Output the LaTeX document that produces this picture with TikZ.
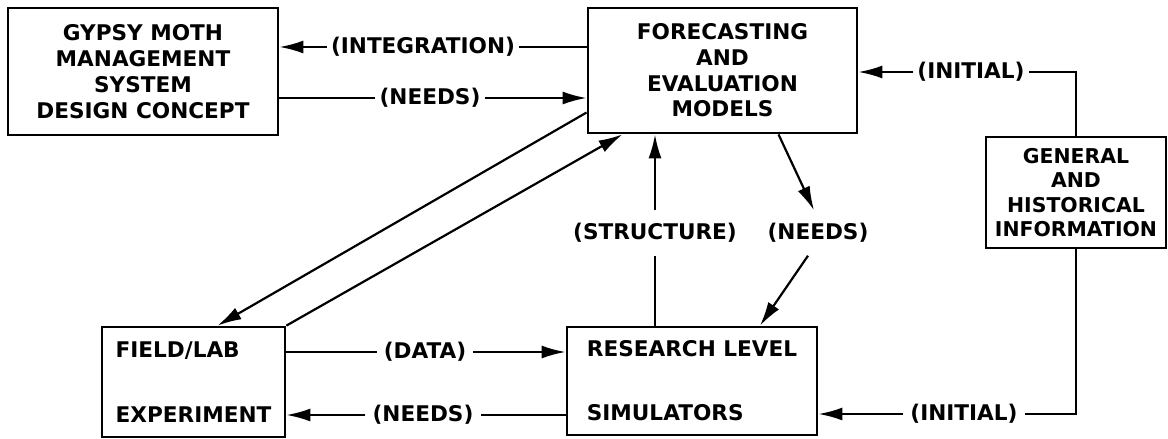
\documentclass[tikz,border=0pt]{standalone}
\usepackage{fontspec}
\setmainfont{DejaVu Sans}
\usepackage{tikz}
\usetikzlibrary{arrows.meta}

\begin{document}
\begin{tikzpicture}[x=0.5pt,y=-0.5pt,>={Latex[length=12pt,width=6.5pt]},line width=1.1pt,font=\bfseries\fontsize{10.8}{12.8}\selectfont]
\tikzstyle{block} = [draw=black,line width=1.4pt,align=center,inner sep=0pt]
\tikzstyle{lbl} = [inner xsep=1.5pt,inner ysep=2pt]
\tikzstyle{vlbl} = [inner xsep=2pt,inner ysep=6pt]
    \useasboundingbox (0,0) rectangle (1168,439);
    \node[block,minimum width=135pt,minimum height=63.5pt] (gypsy) at (143,71.5) {GYPSY MOTH\\[0.2pt]MANAGEMENT\\[0.2pt]SYSTEM\\[0.2pt]DESIGN CONCEPT};
    \node[block,minimum width=134.5pt,minimum height=62.5pt] (forecast) at (722.5,70.5) {FORECASTING\\AND\\EVALUATION\\MODELS};
    \node[block,minimum width=90pt,minimum height=55.5pt,font=\bfseries\fontsize{10.2}{12.2}\selectfont] (general) at (1076,192.5) {GENERAL\\AND\\HISTORICAL\\INFORMATION};
    \node[block,minimum width=91.5pt,minimum height=55pt,align=left] (field) at (193.5,382) {FIELD/LAB\\[19.7pt]EXPERIMENT};
    \node[block,minimum width=125pt,minimum height=54pt,align=left] (research) at (692,381) {RESEARCH LEVEL\\[19.2pt]SIMULATORS};

    \node[lbl] (intlbl) at (423,47) {(INTEGRATION)};
    \node[lbl] (needslbl) at (430,98) {(NEEDS)};
    \node[lbl] (initlbl) at (971,72) {(INITIAL)};
    \node[vlbl] (structlbl) at (655,233) {(STRUCTURE)};
    \node[vlbl] (needslbl2) at (818,233) {(NEEDS)};
    \node[lbl,inner xsep=3pt] (datalbl) at (425,352) {(DATA)};
    \node[lbl,inner xsep=3pt] (needslbl3) at (423,415) {(NEEDS)};
    \node[lbl,inner xsep=3pt] (initlbl2) at (964,414) {(INITIAL)};

    \draw (forecast.west |- intlbl) -- (intlbl);
    \draw[->] (intlbl) -- (gypsy.east |- intlbl);
    \draw (gypsy.east |- needslbl) -- (needslbl);
    \draw[->] (needslbl) -- (forecast.west |- needslbl);
    \draw (general.north) |- (initlbl.east);
    \draw[->] (initlbl) -- (forecast.east |- initlbl);
    \draw (general.south) |- (initlbl2.east);
    \draw[->] (initlbl2) -- (research.east |- initlbl2);
    \draw (research.north -| structlbl) -- (structlbl);
    \draw[->] (structlbl) -- (forecast.south -| structlbl);
    \draw[->] ([xshift=28pt]forecast.south) -- ([xshift=-2pt]needslbl2.north);
    \draw[->] ([xshift=-5pt]needslbl2.south) -- ([xshift=34pt]research.north);
    \draw[->] ([yshift=-21pt]forecast.west) -- ([xshift=12pt]field.north);
    \draw[->] (field.north east) -- ([xshift=-50pt]forecast.south);
    \draw (field.east |- datalbl) -- (datalbl);
    \draw[->] (datalbl) -- (research.west |- datalbl);
    \draw (research.west |- needslbl3) -- (needslbl3);
    \draw[->] (needslbl3) -- (field.east |- needslbl3);
\end{tikzpicture}
\end{document}
